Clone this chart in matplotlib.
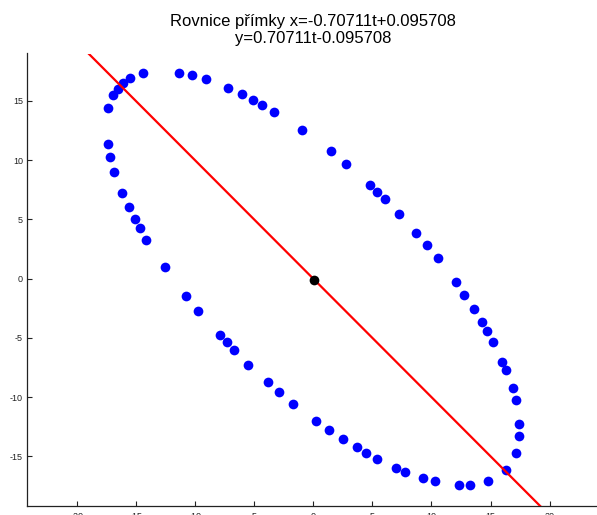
import matplotlib
matplotlib.use("Agg")
import matplotlib.pyplot as plt
import numpy as np

plt.rcParams['font.family'] = ['Liberation Sans', 'DejaVu Sans']
plt.rcParams['axes.unicode_minus'] = False

# Data points (blue)
x_pts = [-14.36, -15.49, -16.10, -16.53, -16.95, -17.35,
         -11.34, -10.22, -9.06, -7.20, -5.99, -5.06, -4.30, -3.29, -0.97, 1.48,
         2.75, 4.78, 5.39, 6.07, 7.25, 8.72, 9.59, 10.55, 12.05, 12.77, 13.57,
         14.24, 14.69, 15.22, 15.96, 16.30, 16.86, 17.12, 17.40, 17.42, 17.17, 16.30,
         14.75, 13.28, 12.32, 10.30, 9.31, 7.79, 7.02, 5.42, 4.44, 3.68, 2.52, 1.36,
         0.26, -1.68, -2.89, -3.82, -5.49, -6.72, -7.29, -7.88, -9.71, -10.75, -12.55,
         -14.11, -14.64, -15.06, -15.55, -16.16, -16.81, -17.15, -17.37]
y_pts = [17.38, 16.91, 16.54, 16.03, 15.48, 14.38,
         17.38, 17.19, 16.83, 16.12, 15.59, 15.08, 14.66, 14.07, 12.57, 10.78,
         9.70, 7.91, 7.32, 6.70, 5.46, 3.86, 2.87, 1.72, -0.25, -1.35, -2.56,
         -3.65, -4.44, -5.37, -7.03, -7.73, -9.22, -10.24, -12.29, -13.27, -14.68, -16.17,
         -17.07, -17.41, -17.41, -17.07, -16.82, -16.29, -16.00, -15.19, -14.68, -14.23, -13.53, -12.79,
         -12.01, -10.55, -9.56, -8.72, -7.26, -5.99, -5.37, -4.73, -2.73, -1.43, 0.96,
         3.27, 4.30, 5.06, 6.03, 7.21, 9.00, 10.24, 11.37]

# Line parameters: x = a_x t + b_x, y = a_y t + b_y
a_x, b_x = -0.70711, 0.095708
a_y, b_y = 0.70711, -0.095708
t_range = [-30, 30]

# Centre point (black)
centre_x = [0.095708]
centre_y = [-0.095708]

x_ticks = [-20, -15, -10, -5, 0, 5, 10, 15, 20]
y_ticks = [-15, -10, -5, 0, 5, 10, 15]

title = "Rovnice přímky x=-0.70711t+0.095708\ny=0.70711t-0.095708"

fig = plt.figure(figsize=(5.97, 5.15), dpi=100)
ax = fig.add_axes([27 / 597, 9.5 / 515, 570 / 597, 452 / 515])

ax.plot(x_pts, y_pts, 'o', color='#0000FF', markersize=7, markeredgewidth=0, zorder=2)
t = np.linspace(t_range[0], t_range[1], 200)
ax.plot(a_x * t + b_x, a_y * t + b_y, '-', color='#FF0000', linewidth=1.6, zorder=3)
ax.plot(centre_x, centre_y, 'o', color='black', markersize=7, markeredgewidth=0, zorder=4)

ax.set_xlim(-24.2, 24.0)
ax.set_ylim(-19.15, 19.0)
ax.set_xticks(x_ticks)
ax.set_yticks(y_ticks)
ax.spines['top'].set_visible(False)
ax.spines['right'].set_visible(False)
for s in ['left', 'bottom']:
    ax.spines[s].set_linewidth(0.9)
    ax.spines[s].set_color('#222222')
ax.tick_params(direction='in', length=3.5, width=0.8, labelsize=6.5, colors='#222222')
ax.tick_params(axis='x', pad=5)
ax.tick_params(axis='y', pad=3)

fig.text(313 / 597, 1 - 30 / 515, title, ha='center', va='center', fontsize=12,
         linespacing=1.2)

fig.savefig("out.png", dpi=100)
